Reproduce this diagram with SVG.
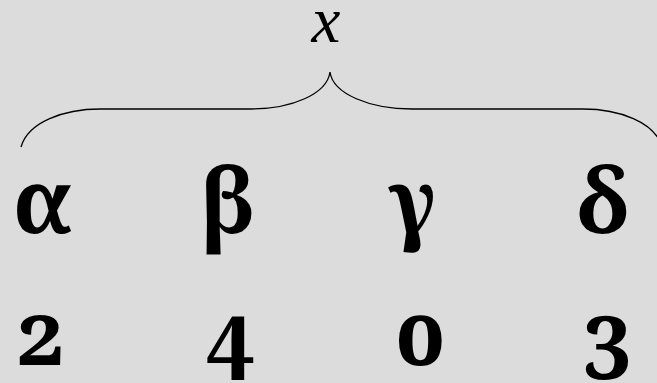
<svg xmlns="http://www.w3.org/2000/svg" width="657" height="383" viewBox="0 0 657 383">
<style>
.bg{fill:#dcdcdc}
.brace{fill:none;stroke:#000;stroke-width:1.3}
.dg{font-variant-numeric:oldstyle-nums;font-feature-settings:'onum'}
</style>
<rect class="bg" x="0" y="0" width="657" height="383"/>
<g id="connectors">
<path class="brace" d="M21,147 C28,122 64,109 100,109 L250,109 C292,109 327,94 330,72 C333,94 370,109 412,109 L583,109 C619,109 655,122 662,147"/>
</g>
<g id="label-x"><text x="326" y="42" text-anchor="middle" font-family="Liberation Serif" font-style="italic" font-size="65">x</text></g>
<g font-family="Noto Serif" font-weight="bold" font-size="90" text-anchor="middle">
<g id="alpha"><text x="42.5" y="233">α</text></g>
<g id="beta"><text x="227.5" y="233">β</text></g>
<g id="gamma"><text x="412.5" y="233">γ</text></g>
<g id="delta"><text x="603" y="233">δ</text></g>
</g>
<g font-family="Noto Serif" font-weight="bold" font-size="87" text-anchor="middle">
<g id="d2"><text class="dg" x="40.5" y="365">2</text></g>
<g id="d4"><text class="dg" x="230" y="365">4</text></g>
<g id="d0"><text class="dg" x="421.5" y="365">0</text></g>
<g id="d3"><text class="dg" x="607" y="365">3</text></g>
</g>
</svg>
